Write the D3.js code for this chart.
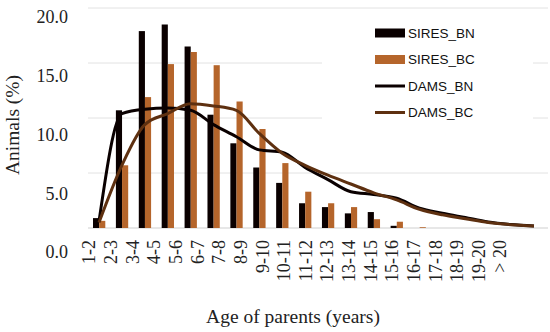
<!DOCTYPE html>
<html lang="en">
<head>
    <meta charset="UTF-8">
    <title>Age of parents</title>
    <script src="https://d3js.org/d3.v7.min.js"></script>
    <style>
        body { margin: 0; background: #fff; }
        .tick text { font-family: "Liberation Serif", serif; font-size: 18px; fill: #222; }
        .legend text { font-family: "Liberation Sans", sans-serif; font-size: 13.5px; fill: #111; }
        .title { font-family: "Liberation Serif", serif; font-size: 19.5px; fill: #222; }
    </style>
</head>
<body>
    <svg width="550" height="332"></svg>
    <script>
        const categories = ["1-2","2-3","3-4","4-5","5-6","6-7","7-8","8-9","9-10","10-11",
            "11-12","12-13","13-14","14-15","15-16","16-17","17-18","18-19","19-20","> 20"];
        const siresBN = [0.9, 10.7, 17.9, 18.5, 16.5, 10.3, 7.7, 5.5, 4.1, 2.25, 1.9, 1.33, 1.45, 0.2, 0, 0, 0, 0, 0, 0];
        const siresBC = [0.65, 5.7, 11.9, 14.9, 16.0, 14.8, 11.5, 9.0, 5.9, 3.3, 2.25, 1.9, 0.8, 0.57, 0.07, 0, 0, 0, 0, 0];
        const damsBN = [0.6, 10.4, 10.8, 10.9, 10.7, 9.4, 8.3, 7.1, 6.9, 5.5, 4.4, 3.3, 3.05, 2.7, 1.8, 1.35, 0.95, 0.55, 0.32, 0.18];
        const damsBC = [0.5, 5.7, 9.4, 10.4, 11.3, 11.1, 10.7, 8.6, 6.8, 5.7, 4.8, 4.0, 3.2, 2.55, 1.7, 1.2, 0.85, 0.5, 0.3, 0.18];
        const yTicks = [0, 5, 10, 15, 20];

        const svg = d3.select("svg");

        const x = d3.scalePoint().domain(categories).range([99, 534]);
        const xSub = d3.scaleBand().domain(["BN", "BC"]).range([-6, 6.3]);
        const y = d3.scaleLinear().domain([0, 20]).range([228, 8]);
        // tick labels sit lower than the gridlines in the source picture
        const yLab = d3.scaleLinear().domain([0, 20]).range([252, 17]);
        const xLab = d3.scalePoint().domain(categories).range([89, 500]);

        // gridlines
        svg.append("g")
            .selectAll("line")
            .data(yTicks)
            .enter().append("line")
            .attr("x1", 88).attr("x2", 548)
            .attr("y1", d => y(d)).attr("y2", d => y(d))
            .attr("stroke", d => d === 0 ? "#cfcfcf" : "#e2e2e2")
            .attr("stroke-width", 1);

        // y tick labels
        svg.append("g")
            .attr("transform", "translate(68,0)")
            .call(d3.axisLeft(yLab).tickValues(yTicks).tickSize(0).tickPadding(0).tickFormat(d3.format(".1f")))
            .call(g => g.select(".domain").remove());

        // x tick labels
        svg.append("g")
            .attr("transform", "translate(0,240)")
            .call(d3.axisBottom(xLab).tickSize(0))
            .call(g => g.select(".domain").remove())
            .selectAll("text")
            .attr("transform", "rotate(-90)")
            .attr("text-anchor", "end")
            .attr("x", 0).attr("y", 0).attr("dy", "0.33em");

        // legend box (covers gridlines)
        svg.append("rect")
            .attr("x", 322).attr("y", 18).attr("width", 211).attr("height", 106)
            .attr("fill", "#fff");

        // bars
        svg.append("g")
            .selectAll("rect")
            .data(siresBN)
            .enter().append("rect")
            .attr("x", (d, i) => x(categories[i]) + xSub("BN"))
            .attr("width", xSub.bandwidth())
            .attr("y", d => y(d))
            .attr("height", d => y(0) - y(d))
            .attr("fill", "#0a0000");

        svg.append("g")
            .selectAll("rect")
            .data(siresBC)
            .enter().append("rect")
            .attr("x", (d, i) => x(categories[i]) + xSub("BC"))
            .attr("width", xSub.bandwidth())
            .attr("y", d => y(d))
            .attr("height", d => y(0) - y(d))
            .attr("fill", "#b5652b");

        // lines
        const line = d3.line()
            .x((d, i) => x(categories[i]))
            .y(d => y(d))
            .curve(d3.curveMonotoneX);

        svg.append("path").datum(damsBN)
            .attr("d", line)
            .attr("fill", "none").attr("stroke", "#0a0000").attr("stroke-width", 3);

        svg.append("path").datum(damsBC)
            .attr("d", line)
            .attr("fill", "none").attr("stroke", "#5e3010").attr("stroke-width", 3);

        // legend
        const legend = svg.append("g").attr("class", "legend");
        const items = [
            { name: "SIRES_BN", type: "bar", color: "#0a0000", y: 33 },
            { name: "SIRES_BC", type: "bar", color: "#b5652b", y: 59.5 },
            { name: "DAMS_BN", type: "line", color: "#0a0000", y: 86 },
            { name: "DAMS_BC", type: "line", color: "#5e3010", y: 112.5 }
        ];
        items.forEach(it => {
            if (it.type === "bar") {
                legend.append("rect")
                    .attr("x", 375).attr("y", it.y - 4.5).attr("width", 30).attr("height", 9)
                    .attr("fill", it.color);
            } else {
                legend.append("line")
                    .attr("x1", 375).attr("x2", 405).attr("y1", it.y).attr("y2", it.y)
                    .attr("stroke", it.color).attr("stroke-width", 3);
            }
            legend.append("text")
                .attr("x", 408).attr("y", it.y).attr("dy", "0.36em")
                .text(it.name);
        });

        // axis titles
        svg.append("text").attr("class", "title")
            .attr("x", 293).attr("y", 323)
            .attr("text-anchor", "middle")
            .text("Age of parents (years)");

        svg.append("text").attr("class", "title")
            .attr("transform", "translate(19,125) rotate(-90)")
            .attr("text-anchor", "middle")
            .text("Animals (%)");
    </script>
</body>
</html>
